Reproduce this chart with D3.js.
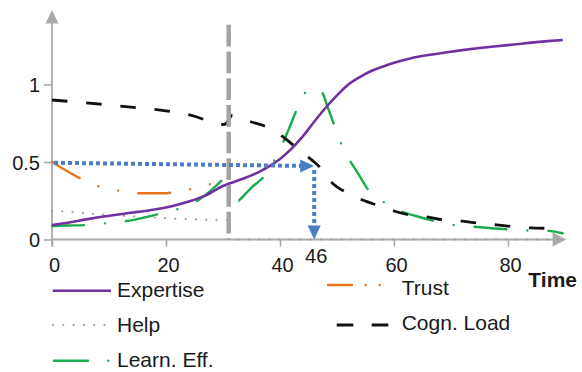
<!DOCTYPE html>
<html>
<head>
<meta charset="utf-8">
<script src="https://cdn.jsdelivr.net/npm/d3@7"></script>
<style>
  body { margin: 0; background: #fff; }
  svg { display: block; }
  text { font-family: "Liberation Sans", Arial, Helvetica, sans-serif; fill: #1a1a1a; }
</style>
</head>
<body>
<svg id="chart" width="582" height="372"></svg>
<script>
// ---- data -------------------------------------------------------------
const xTicks = [0, 20, 40, 60, 80];
const yTicks = [0, 0.5, 1];
const yTickLabels = ["0", "0.5", "1"];
const axisLabelX = "Time";

const seriesNames = ["Expertise", "Help", "Learn. Eff.", "Trust", "Cogn. Load"];

const expertiseT = [0, 3, 6, 9, 12, 15, 18, 21, 24, 27, 30, 33, 36, 38, 40, 42, 44, 46, 48, 50, 52, 54, 56, 58, 60, 63, 66, 69, 72, 75, 78, 81, 84, 87, 89.6];
const expertiseV = [0.094, 0.11, 0.13, 0.148, 0.163, 0.178, 0.193, 0.215, 0.245, 0.285, 0.345, 0.385, 0.43, 0.47, 0.52, 0.585, 0.665, 0.76, 0.85, 0.93, 1.0, 1.048, 1.087, 1.115, 1.14, 1.17, 1.19, 1.207, 1.222, 1.235, 1.247, 1.258, 1.27, 1.28, 1.287];

const helpT = [0, 3, 5.5, 11, 16, 21.6, 27, 31, 31, 89];
const helpV = [0.184, 0.18, 0.17, 0.156, 0.146, 0.134, 0.127, 0.124, 0, 0];

const learnT = [0, 3, 6.1, 9.8, 13.1, 16, 19.2, 22.6, 25.7, 28, 30.4, 30.9, 31.1, 32.9, 35, 37.4, 39.1, 40.6, 41.8, 42.9, 44.5, 46, 47.3, 48.4, 49.4, 50.6, 52.2, 53.8, 55.3, 58.1, 61, 64, 66.9, 70.4, 73.9, 77, 79.8, 83.3, 86.8, 89.6];
const learnV = [0.087, 0.09, 0.094, 0.106, 0.119, 0.14, 0.169, 0.203, 0.255, 0.32, 0.405, 0.425, 0.2, 0.255, 0.335, 0.416, 0.517, 0.631, 0.735, 0.835, 0.95, 0.975, 0.953, 0.85, 0.75, 0.63, 0.513, 0.42, 0.33, 0.244, 0.186, 0.15, 0.121, 0.094, 0.083, 0.073, 0.066, 0.058, 0.056, 0.04];

const trustT = [0, 2, 5.5, 8.7, 12.1, 15.4, 19.5, 21.8, 25, 28.4, 31];
const trustV = [0.5, 0.455, 0.384, 0.337, 0.313, 0.298, 0.298, 0.308, 0.33, 0.363, 0.385];

const loadT = [0, 5, 10, 15, 20, 25, 27, 30, 30.6, 31.6, 33, 35, 37, 40.3, 42.3, 45, 46, 47, 48, 49, 50, 51.4, 54.5, 57, 60, 62.5, 66, 68.5, 72, 75, 78, 81, 84, 87, 89.5];
const loadV = [0.9, 0.885, 0.868, 0.85, 0.83, 0.795, 0.77, 0.742, 0.75, 0.8, 0.78, 0.758, 0.737, 0.668, 0.61, 0.53, 0.5, 0.466, 0.418, 0.37, 0.34, 0.308, 0.255, 0.222, 0.184, 0.16, 0.145, 0.127, 0.118, 0.104, 0.094, 0.083, 0.075, 0.072, 0.07];

const interventionTime = 31;
const interventionTop = 1.385;
const markerTime = 46;
const markerLevel = [0.495, 0.475];

// ---- scales -----------------------------------------------------------
const svg = d3.select("#chart");
const x = d3.scaleLinear().domain([0, 80]).range([52, 508]);
const y = d3.scaleLinear().domain([0, 1]).range([239.5, 84.5]);
const xEnd = 88;     // axis line end (arrow base)
const xTip = 90.2;   // axis arrow tip
const yEnd = 1.4;
const yTip = 1.48;

const axisColor = "#a9a9a9";
const zip = (t, v) => t.map((d, i) => [d, v[i]]);
const smooth = d3.line().x(d => x(d[0])).y(d => y(d[1])).curve(d3.curveMonotoneX);
const straight = d3.line().x(d => x(d[0])).y(d => y(d[1]));

// ---- axes -------------------------------------------------------------
const gx = svg.append("g").attr("transform", `translate(0,${y(0)})`)
  .call(d3.axisBottom(x).tickValues(xTicks).tickSize(7).tickPadding(11).tickSizeOuter(0));
gx.select(".domain").remove();
gx.selectAll(".tick line").attr("stroke", axisColor).attr("stroke-width", 1.6);
gx.selectAll(".tick text").attr("font-size", 20).attr("dx", 2)
  .attr("font-family", "Liberation Sans, Arial, sans-serif").attr("fill", "#1a1a1a");

const gy = svg.append("g").attr("transform", `translate(${x(0)},0)`)
  .call(d3.axisLeft(y).tickValues(yTicks).tickFormat((d, i) => yTickLabels[i]).tickSize(8).tickPadding(4).tickSizeOuter(0));
gy.select(".domain").remove();
gy.selectAll(".tick line").attr("stroke", axisColor).attr("stroke-width", 1.6);
gy.selectAll(".tick text").attr("font-size", 20).attr("dy", "0.35em")
  .attr("font-family", "Liberation Sans, Arial, sans-serif").attr("fill", "#1a1a1a");

// axis lines with arrowheads
svg.append("line").attr("x1", x(0)).attr("x2", x(xEnd)).attr("y1", y(0)).attr("y2", y(0))
  .attr("stroke", axisColor).attr("stroke-width", 1.8);
svg.append("line").attr("x1", x(0)).attr("x2", x(0)).attr("y1", y(0) + 7).attr("y2", y(yEnd))
  .attr("stroke", axisColor).attr("stroke-width", 1.8);
svg.append("path")
  .attr("d", `M${x(xTip)},${y(0)} L${x(xEnd) - 1},${y(0) - 7} L${x(xEnd) - 1},${y(0) + 7} Z`)
  .attr("fill", axisColor);
svg.append("path")
  .attr("d", `M${x(0)},${y(yTip)} L${x(0) - 6.5},${y(yEnd) + 1} L${x(0) + 6.5},${y(yEnd) + 1} Z`)
  .attr("fill", axisColor);

// ---- series -----------------------------------------------------------
const colors = {
  expertise: "#7030a0",
  help: "#9a9a9a",
  learn: "#1aab4f",
  trust: "#e8761e",
  load: "#111111",
  marker: "#4a7ec4",
  intervention: "#a3a3a3"
};

svg.append("path").datum(zip(helpT, helpV)).attr("d", straight)
  .attr("fill", "none").attr("stroke", colors.help).attr("stroke-width", 2.2)
  .attr("stroke-linecap", "round").attr("stroke-dasharray", "0 10.3");

svg.append("path").datum(zip(trustT, trustV)).attr("d", smooth)
  .attr("fill", "none").attr("stroke", colors.trust).attr("stroke-width", 2.4)
  .attr("stroke-linecap", "round").attr("stroke-dasharray", "32 20.3 0 20.3 0 20.3");

// Learning efficiency restarts after the intervention: two pieces, the second
// one with its dash pattern starting where the curve recovers.
const learnPts = zip(learnT, learnV);
const learnBefore = learnPts.filter(d => d[0] < interventionTime);
const learnAfter = learnPts.filter(d => d[0] > interventionTime);
const learnDash = [32, 21, 0, 21];
const learnPeriod = d3.sum(learnDash);
const leadIn = svg.append("path").attr("d", smooth(learnAfter.slice(0, 2))).attr("fill", "none");
const leadLen = leadIn.node().getTotalLength();
leadIn.remove();
[[learnBefore, 0], [learnAfter, learnPeriod - leadLen]].forEach(([pts, off]) => {
  svg.append("path").datum(pts).attr("d", smooth)
    .attr("fill", "none").attr("stroke", colors.learn).attr("stroke-width", 2.4)
    .attr("stroke-linecap", "round").attr("stroke-dasharray", learnDash.join(" "))
    .attr("stroke-dashoffset", off);
});

svg.append("path").datum(zip(loadT, loadV)).attr("d", smooth)
  .attr("fill", "none").attr("stroke", colors.load).attr("stroke-width", 2.8)
  .attr("stroke-dasharray", "15.5 18.8");

svg.append("path").datum(zip(expertiseT, expertiseV)).attr("d", smooth)
  .attr("fill", "none").attr("stroke", colors.expertise).attr("stroke-width", 2.6);

// intervention marker
svg.append("line")
  .attr("x1", x(interventionTime)).attr("x2", x(interventionTime))
  .attr("y1", y(interventionTop)).attr("y2", y(0))
  .attr("stroke", colors.intervention).attr("stroke-width", 4.5)
  .attr("stroke-dasharray", "21.7 5");

// time marker: dotted arrows pointing to t = markerTime
const mx = x(markerTime);
const hy1 = y(markerLevel[1]);
svg.append("path").datum([[0, markerLevel[0]], [markerTime, markerLevel[1]]])
  .attr("d", d => `M${x(d[0][0]) + 2},${y(d[0][1])} L${mx - 13},${hy1}`)
  .attr("fill", "none").attr("stroke", colors.marker).attr("stroke-width", 4)
  .attr("stroke-dasharray", "4 3");
svg.append("path")
  .attr("d", `M${mx},${hy1} L${mx - 14},${hy1 - 6.5} L${mx - 14},${hy1 + 6.5} Z`)
  .attr("fill", colors.marker);
svg.append("path")
  .attr("d", `M${mx},${hy1 + 4} L${mx},${y(0) - 14}`)
  .attr("fill", "none").attr("stroke", colors.marker).attr("stroke-width", 4)
  .attr("stroke-dasharray", "4 3");
svg.append("path")
  .attr("d", `M${mx},${y(0)} L${mx - 6.5},${y(0) - 14} L${mx + 6.5},${y(0) - 14} Z`)
  .attr("fill", colors.marker);
svg.append("text").attr("x", mx + 2).attr("y", 263).attr("text-anchor", "middle")
  .attr("font-size", 20).text(String(markerTime));

// axis title
svg.append("text").attr("x", 577).attr("y", 286.5).attr("text-anchor", "end")
  .attr("font-size", 21).attr("font-weight", "bold").text(axisLabelX);

// ---- legend -----------------------------------------------------------
const legend = [
  { name: seriesNames[0], x1: 52.7, x2: 111, ly: 290.7, tx: 117, ty: 296.5, color: colors.expertise, w: 2.6, dash: null, cap: "butt" },
  { name: seriesNames[1], x1: 53, x2: 105, ly: 325, tx: 117, ty: 331.5, color: colors.help, w: 2.2, dash: "0 10.3", cap: "round" },
  { name: seriesNames[2], x1: 54, x2: 108.3, ly: 360.7, tx: 117, ty: 366.5, color: colors.learn, w: 2.4, dash: "34 20.3 0 30", cap: "round" },
  { name: seriesNames[3], x1: 328, x2: 380, ly: 285, tx: 401.7, ty: 295, color: colors.trust, w: 2.4, dash: "24 13.7 0 14 0 30", cap: "round" },
  { name: seriesNames[4], x1: 336.7, x2: 388.3, ly: 325, tx: 401.7, ty: 330, color: colors.load, w: 2.8, dash: "16.6 18.4", cap: "butt" }
];
const lg = svg.append("g").selectAll("g").data(legend).join("g");
lg.append("line")
  .attr("x1", d => d.x1).attr("x2", d => d.x2).attr("y1", d => d.ly).attr("y2", d => d.ly)
  .attr("stroke", d => d.color).attr("stroke-width", d => d.w)
  .attr("stroke-linecap", d => d.cap)
  .attr("stroke-dasharray", d => d.dash);
lg.append("text").attr("x", d => d.tx).attr("y", d => d.ty)
  .attr("font-size", 21).text(d => d.name);
</script>
</body>
</html>
